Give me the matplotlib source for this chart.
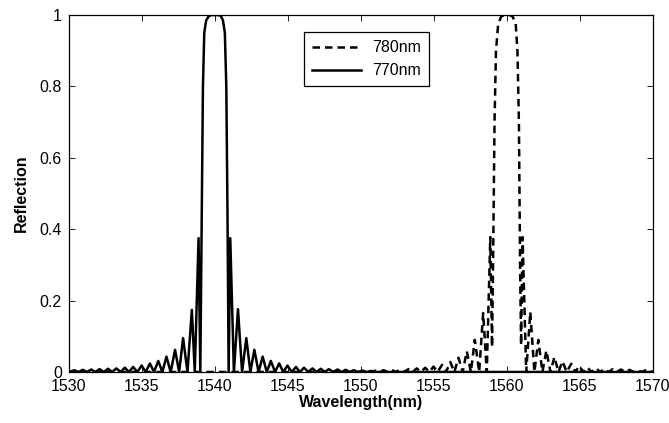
import matplotlib
matplotlib.use("Agg")
import matplotlib.pyplot as plt

# 780nm grating (dashed)
wl_780 = [1530.0, 1550.5,
          1550.75, 1551.0, 1551.28, 1551.55, 1551.83, 1552.1, 1552.39, 1552.68,
          1552.96, 1553.25, 1553.54, 1553.82, 1554.11, 1554.4, 1554.69, 1554.97,
          1555.26, 1555.55, 1555.83, 1556.12, 1556.4, 1556.68, 1556.97, 1557.25,
          1557.53, 1557.8, 1558.1, 1558.37, 1558.62, 1558.86, 1558.98,
          1559.05, 1559.15, 1559.25, 1559.4, 1559.6, 1559.8, 1560.0, 1560.2,
          1560.4, 1560.6, 1560.72, 1560.82, 1560.9, 1560.97,
          1561.07, 1561.32, 1561.6, 1561.88, 1562.15, 1562.43, 1562.7, 1562.98,
          1563.25, 1563.53, 1563.8, 1564.1, 1564.4, 1564.68, 1564.95, 1565.23,
          1565.5, 1565.8, 1566.1, 1566.38, 1566.68, 1566.96, 1567.25, 1567.53,
          1567.8, 1568.1, 1568.4, 1568.68, 1568.95, 1569.23, 1569.5, 1569.8, 1570.0]
r_780 = [0.0, 0.0,
         0.0, 0.004, 0.0, 0.005, 0.0, 0.006, 0.0, 0.007,
         0.0, 0.008, 0.0, 0.010, 0.0, 0.012, 0.0, 0.015,
         0.0, 0.020, 0.0, 0.028, 0.0, 0.040, 0.0, 0.058,
         0.0, 0.090, 0.0, 0.165, 0.0, 0.378, 0.07,
         0.30, 0.70, 0.90, 0.975, 0.995, 1.0, 1.0, 1.0,
         0.995, 0.975, 0.90, 0.70, 0.30, 0.075,
         0.378, 0.0, 0.168, 0.0, 0.090, 0.0, 0.060, 0.0,
         0.042, 0.0, 0.030, 0.0, 0.023, 0.0, 0.017, 0.0,
         0.013, 0.0, 0.011, 0.0, 0.009, 0.0, 0.008, 0.0,
         0.007, 0.0, 0.006, 0.0, 0.005, 0.0, 0.005, 0.0, 0.002]

# 770nm grating (solid)
wl_770 = [1530.0, 1530.38, 1530.66, 1530.95, 1531.24, 1531.53, 1531.81, 1532.1,
          1532.39, 1532.68, 1532.96, 1533.25, 1533.54, 1533.83, 1534.11, 1534.4,
          1534.69, 1534.98, 1535.26, 1535.55, 1535.83, 1536.12, 1536.4, 1536.68,
          1536.97, 1537.27, 1537.55, 1537.82, 1538.12, 1538.42, 1538.62, 1538.88,
          1539.0, 1539.1, 1539.18, 1539.27, 1539.4, 1539.6, 1539.8, 1540.0,
          1540.2, 1540.4, 1540.55, 1540.68, 1540.78, 1540.86, 1540.94,
          1541.05, 1541.3, 1541.58, 1541.86, 1542.15, 1542.43, 1542.7, 1542.99,
          1543.27, 1543.55, 1543.83, 1544.12, 1544.4, 1544.68, 1544.97, 1545.26,
          1545.55, 1545.83, 1546.1, 1546.39, 1546.68, 1546.96, 1547.25, 1547.53,
          1547.8, 1548.1, 1548.4, 1548.68, 1548.95, 1549.23, 1549.5, 1549.8,
          1550.1, 1550.4, 1550.7, 1551.0, 1570.0]
r_770 = [0.0, 0.005, 0.0, 0.006, 0.0, 0.007, 0.0, 0.008,
         0.0, 0.009, 0.0, 0.010, 0.0, 0.012, 0.0, 0.014,
         0.0, 0.018, 0.0, 0.024, 0.0, 0.031, 0.0, 0.043,
         0.0, 0.062, 0.0, 0.095, 0.0, 0.174, 0.0, 0.375,
         0.0, 0.45, 0.80, 0.95, 0.985, 0.998, 1.0, 1.0,
         1.0, 0.998, 0.985, 0.95, 0.80, 0.45, 0.0,
         0.375, 0.0, 0.176, 0.0, 0.095, 0.0, 0.062, 0.0,
         0.043, 0.0, 0.031, 0.0, 0.024, 0.0, 0.018, 0.0,
         0.014, 0.0, 0.012, 0.0, 0.010, 0.0, 0.009, 0.0,
         0.008, 0.0, 0.007, 0.0, 0.006, 0.0, 0.005, 0.0,
         0.004, 0.0, 0.003, 0.0, 0.0]

x_ticks = [1530, 1535, 1540, 1545, 1550, 1555, 1560, 1565, 1570]
y_ticks = [0, 0.2, 0.4, 0.6, 0.8, 1]
y_tick_labels = ["0", "0.2", "0.4", "0.6", "0.8", "1"]

plt.rcParams["font.family"] = ["Liberation Sans", "DejaVu Sans"]
plt.rcParams["font.size"] = 11.5

fig = plt.figure(figsize=(6.69, 4.23), dpi=100)
ax = fig.add_axes([0.103, 0.1206, 0.873, 0.8439])

ax.plot(wl_780, r_780, color="black", lw=1.8, ls=(0, (3, 2)), label="780nm")
ax.plot(wl_770, r_770, color="black", lw=1.8, label="770nm")

ax.set_xlim(1530, 1570)
ax.set_ylim(0, 1)
ax.set_xticks(x_ticks)
ax.set_yticks(y_ticks)
ax.set_yticklabels(y_tick_labels)
ax.tick_params(direction="in", top=True, right=True, length=4, width=0.6, pad=5)
for s in ax.spines.values():
    s.set_linewidth(0.9)

ax.set_xlabel("Wavelength(nm)", fontweight="bold", labelpad=1)
ax.set_ylabel("Reflection", fontweight="bold", labelpad=8)

leg = ax.legend(loc="upper left", bbox_to_anchor=(0.402, 0.952), fancybox=False,
                edgecolor="black", framealpha=1, handlelength=3.1,
                handletextpad=0.7, borderpad=0.5, labelspacing=0.5,
                borderaxespad=0)
leg.get_frame().set_linewidth(0.9)

fig.savefig("out.png", dpi=100)
